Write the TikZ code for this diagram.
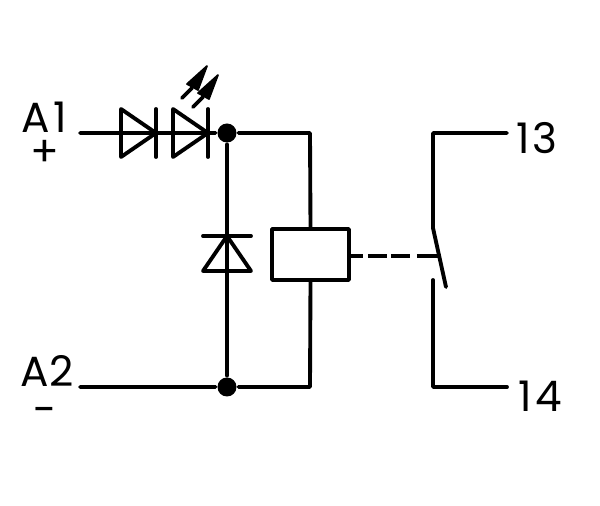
\documentclass[tikz,border=0pt]{standalone}
\usepackage{fontspec}
\setmainfont{Poppins}
\begin{document}
\begin{tikzpicture}[x=0.02cm, y=-0.02cm, line width=2.2pt, line join=round, line cap=round]
	\tikzset{
		diode/.pic={
			\draw (-35,-24)--(0,0)--(-35,24)--cycle;
			\draw (0,-24)--(0,24);
		},
		led-arrow/.pic={
			\draw[line width=2.2pt] (0,0)--(10,-10);
			\filldraw[line width=1pt] (5,-14)--(25,-32)--(16,-8)--cycle;
		},
		lbl/.style={inner sep=0pt, font=\fontsize{24}{24}\selectfont},
		lblwide/.style={lbl, font=\fontsize{24}{24}\selectfont\addfontfeature{LetterSpace=8}},
		dot/.style={circle, fill=black, inner sep=0pt, minimum size=0.38cm},
		coil/.style={draw, minimum width=1.54cm, minimum height=1.02cm, inner sep=0pt}
	}
	\useasboundingbox (0,0) rectangle (600,506);
	% coordinates of the wires
	\coordinate (inA1) at (80,133);
	\coordinate (inA2) at (80,387);
	\coordinate (top) at (310,133);
	\coordinate (bot) at (310,387);
	\node[dot] (dotT) at (227,133) {};
	\node[dot] (dotB) at (227,387) {};
	\node[coil] (relay) at (310.5,254.5) {};
	% coil side
	\draw (inA1)--(dotT)--(top)--(relay.north);
	\draw (inA2)--(dotB)--(bot)--(relay.south);
	\draw (dotT)--(dotB);
	\path (156,133)pic{diode};
	\path (208,133)pic{diode};
	\path (227,236)pic[rotate=90]{diode};
	\path (182,98)pic{led-arrow};
	\path (193,107)pic{led-arrow};
	% contact
	\coordinate (c13) at (507,133);
	\coordinate (c14) at (507,387);
	\coordinate (hinge) at (433,228);
	\coordinate (blade) at (446,287);
	\coordinate (fix) at (433,280);
	\coordinate (linkA) at (350,256);
	\coordinate (linkB) at (441,256);
	\draw (c13)-|(hinge)--(blade);
	\draw (c14)-|(fix);
	\draw[line cap=butt, dash pattern=on 7.4pt off 2.8pt on 10.8pt off 2.3pt on 10.8pt off 4pt on 14pt off 50pt] (linkA)--(linkB);
	% labels
	\node[lblwide] (A1) at (44,117) {A1};
	\node[lbl] (A2) at (47,371) {A2};
	\node[lblwide] (n13) at (537,138) {13};
	\node[lblwide] (n14) at (540,396) {14};
	\node[lbl] (plus) at (45,153) {+};
	\node[lbl] (minus) at (45,416) {-};
\end{tikzpicture}
\end{document}
